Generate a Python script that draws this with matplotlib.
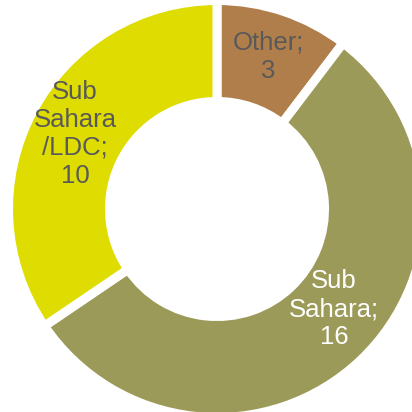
import matplotlib
matplotlib.use("Agg")
import matplotlib.pyplot as plt
import numpy as np

categories = ["Other", "Sub Sahara", "Sub Sahara\n/LDC"]
label_text = ["Other;\n3", "Sub\nSahara;\n16", "Sub\nSahara\n/LDC;\n10"]
values = [3, 16, 10]
colors = ["#B07E4A", "#9C9A58", "#DEDC00"]
text_colors = ["#595959", "#FFFFFF", "#595959"]

plt.rcParams['font.family'] = ['Liberation Sans', 'DejaVu Sans']

fig = plt.figure(figsize=(4.12, 4.12), dpi=100)
ax = fig.add_axes([0, 0, 1, 1])
wedges, texts = ax.pie(values, colors=colors, startangle=90, counterclock=False,
                       radius=1.022, labels=label_text, labeldistance=0.77,
                       wedgeprops=dict(width=0.495, edgecolor="white", linewidth=6.5),
                       textprops=dict(fontsize=18.5))
for t, c in zip(texts, text_colors):
    t.set_ha("center")
    t.set_va("center")
    t.set_color(c)
    t.set_linespacing(1.2)
# Sub Sahara label slightly shifted toward the right as in reference
x, y = texts[1].get_position()
ang = np.arctan2(y, x) + np.deg2rad(6)
r = 0.755
texts[1].set_position((r * np.cos(ang), r * np.sin(ang)))

s = 204.0
ax.set_xlim(-217 / s, (412 - 217) / s)
ax.set_ylim(-(412 - 209) / s, 209 / s)
ax.set_aspect("auto")
ax.axis("off")
fig.savefig("out.png", dpi=100)
